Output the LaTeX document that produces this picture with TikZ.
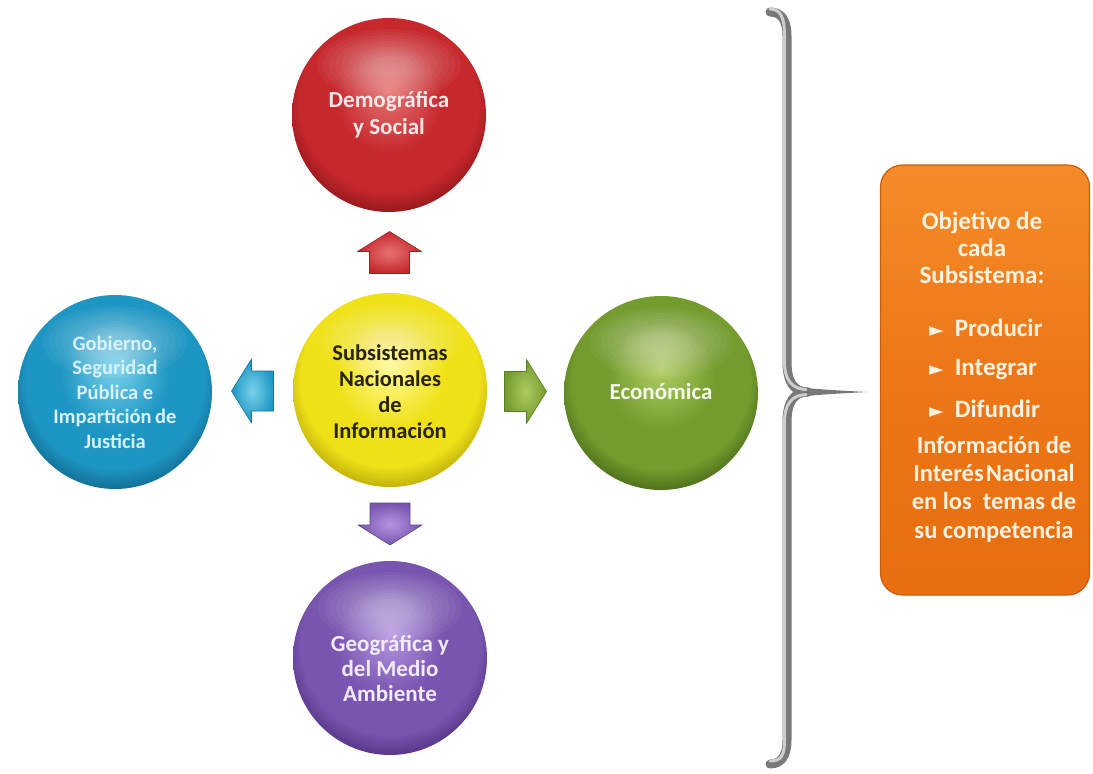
\documentclass[tikz,border=0pt]{standalone}
\usepackage{fontspec}
\setmainfont{Carlito}
\newfontfamily\symf{DejaVu Sans}
\newcommand\bulf{\symf\fontsize{19}{19}\selectfont}
\usetikzlibrary{calc}
\definecolor{redL}{RGB}{230,115,115}\definecolor{redM}{RGB}{198,40,44}\definecolor{redD}{RGB}{120,14,18}
\definecolor{yelL}{RGB}{255,250,150}\definecolor{yelM}{RGB}{240,225,25}\definecolor{yelD}{RGB}{160,145,0}
\definecolor{bluL}{RGB}{120,210,235}\definecolor{bluM}{RGB}{30,150,195}\definecolor{bluD}{RGB}{10,85,120}
\definecolor{grnL}{RGB}{175,205,100}\definecolor{grnM}{RGB}{115,155,45}\definecolor{grnD}{RGB}{55,85,15}
\definecolor{purL}{RGB}{180,150,225}\definecolor{purM}{RGB}{120,85,175}\definecolor{purD}{RGB}{65,35,110}
\definecolor{orgT}{RGB}{244,140,40}\definecolor{orgM}{RGB}{237,118,22}\definecolor{orgB}{RGB}{232,110,15}\definecolor{orgD}{RGB}{205,90,10}
\definecolor{txtR}{RGB}{252,232,232}\definecolor{txtY}{RGB}{40,35,0}\definecolor{txtB}{RGB}{215,242,252}
\definecolor{txtG}{RGB}{245,250,235}\definecolor{txtP}{RGB}{242,235,252}\definecolor{txtO}{RGB}{255,242,225}
\definecolor{brD}{RGB}{120,120,120}\definecolor{brL}{RGB}{205,205,205}
\newcommand\mksph[4]{\pgfdeclareradialshading{#1}{\pgfpoint{0bp}{6bp}}{color(0bp)=(#2); color(14bp)=(#3); color(23bp)=(#3); color(31bp)=(#4); color(50bp)=(#4)}}
\mksph{sphR}{redL}{redM}{redD}
\mksph{sphY}{yelL}{yelM}{yelD}
\mksph{sphB}{bluL}{bluM}{bluD}
\mksph{sphG}{grnL}{grnM}{grnD}
\mksph{sphP}{purL}{purM}{purD}
\newcommand\blkarrow[4]{%
  \shade[shift={#1}, rotate=#2, inner color=#3, outer color=#4, draw=#4!80!black, line width=0.6pt, line join=round]
   (-21,-20) -- (1,-20) -- (1,-32) -- (21,0) -- (1,32) -- (1,20) -- (-21,20) -- cycle;}
\begin{document}
\begin{tikzpicture}[x=1pt,y=-1pt,
  sph/.style={circle, minimum size=194pt, inner sep=0pt, shade, shading=#1,
    path picture={\foreach \k in {0,...,9}{\fill[white, opacity=0.045] ([yshift=50pt]path picture bounding box.center) ellipse [x radius={72pt-6pt*\k}, y radius={36pt-3pt*\k}];}}},
  lbl/.style={align=center, inner sep=0pt, font=\bfseries\fontsize{23}{27}\selectfont},
  boxtxt/.style={align=center, inner sep=0pt, text=txtO, font=\bfseries\fontsize{25}{27}\selectfont}]
\useasboundingbox (0,0) rectangle (1093,774);
\fill[white] (0,0) rectangle (1093,774);
% spheres
\node[sph=sphR] (dem) at (389,115) {};
\node[sph=sphY] (sni) at (390,390) {};
\node[sph=sphB] (gob) at (115,392) {};
\node[sph=sphG] (eco) at (661,393) {};
\node[sph=sphP] (geo) at (390,658) {};
% labels
\node[lbl, text=txtR] (demt) at ($(dem.center)+(0,0)$) {Demográfica\\y Social};
\node[lbl, text=txtY, font=\bfseries\fontsize{22.5}{26}\selectfont] (snit) at ($(sni.center)+(0,2)$) {Subsistemas\\Nacionales\\de\\Información};
\node[lbl, text=txtB, font=\bfseries\fontsize{20.5}{24.5}\selectfont] (gobt) at ($(gob.center)+(0,0)$) {Gobierno,\\Seguridad\\Pública e\\Impartición\hspace{3.5pt}de\\Justicia};
\node[lbl, text=txtG] (ecot) at ($(eco.center)+(0,-1)$) {Económica};
\node[lbl, text=txtP, font=\bfseries\fontsize{23}{25}\selectfont] (geot) at ($(geo.center)+(0,10)$) {Geográfica y\\del Medio\\Ambiente};
% block arrows
\blkarrow{($(sni)!0.5!(dem)$)}{90}{redL}{redM}
\blkarrow{($(sni)!0.5!(eco)$)}{0}{grnL}{grnM}
\blkarrow{($(sni)!0.5!(gob)$)}{180}{bluL}{bluM}
\blkarrow{($(sni)!0.5!(geo)$)}{270}{purL}{purM}
% brace
\coordinate (tip) at (867,392);
\draw[brD, line width=9pt, line cap=round] (770,12) .. controls (781,12) and (787,20) .. (787,36) -- (787,362) .. controls (787,382) and (794,392) .. (808,392);
\draw[brD, line width=9pt, line cap=round] (770,764) .. controls (781,764) and (787,756) .. (787,740) -- (787,422) .. controls (787,402) and (794,392) .. (808,392);
\fill[brD] (800,387.5) .. controls (830,390) .. (tip) .. controls (830,394) .. (800,396.5) -- cycle;
\draw[brL, line width=3pt, line cap=round] (770,9) .. controls (781,9) and (784.5,18) .. (784.5,36) -- (784.5,362) .. controls (784.5,380) and (792,389) .. (806,389.5);
\draw[brL, line width=3pt, line cap=round] (770,761) .. controls (781,761) and (784.5,756) .. (784.5,740) -- (784.5,422) .. controls (784.5,404) and (792,395) .. (806,394.5);
% orange box
\node[draw=orgD, line width=1.2pt, rounded corners=22pt, minimum width=209pt, minimum height=430pt,
  top color=orgT, bottom color=orgB, middle color=orgM] (obj) at (985,380) {};
\node[boxtxt] (t1) at (982,248) {Objetivo de\\cada\\Subsistema:};
\node[boxtxt, anchor=west] (b1) at (929,328) {{\bulf ►}\hspace{11pt}Producir};
\node[boxtxt, anchor=west] (b2) at (929,370) {{\bulf ►}\hspace{11pt}Integrar};
\node[boxtxt, anchor=west] (b3) at (929,409) {{\bulf ►}\hspace{11pt}Difundir};
\node[boxtxt, font=\bfseries\fontsize{24.5}{28.3}\selectfont] (t2) at (994,489) {Información de\\Interés\hspace{2pt}Nacional\\en los\ \ temas de\\su competencia};
\end{tikzpicture}
\end{document}
